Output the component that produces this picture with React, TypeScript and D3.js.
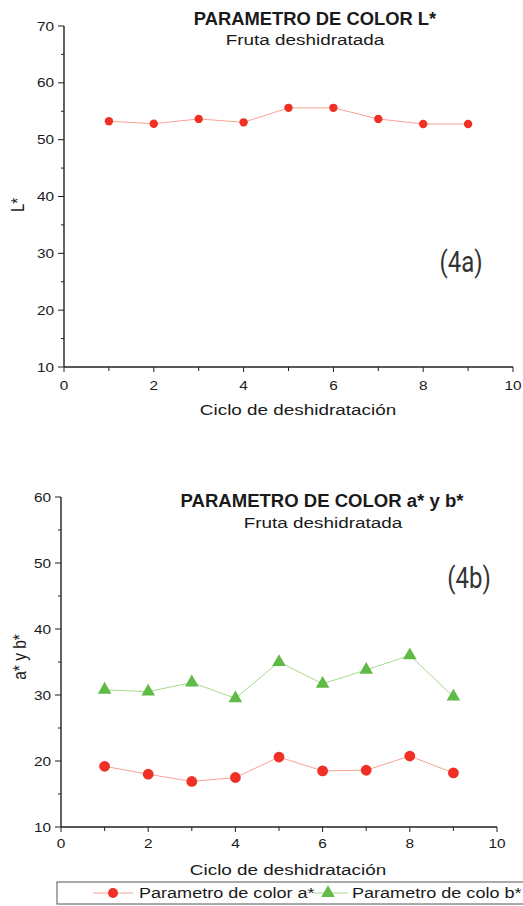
import * as d3 from "d3";
import React from "react";

// datos
const ciclos = [1, 2, 3, 4, 5, 6, 7, 8, 9];
const valoresL = [53.25, 52.8, 53.65, 53.05, 55.6, 55.6, 53.65, 52.75, 52.75];
const valoresA = [19.2, 18.0, 16.9, 17.5, 20.6, 18.5, 18.6, 20.75, 18.2];
const valoresB = [30.8, 30.5, 31.9, 29.5, 35.0, 31.7, 33.8, 36.0, 29.75];
const ticksX = [0, 2, 4, 6, 8, 10];
const ticksL = [10, 20, 30, 40, 50, 60, 70];
const ticksAB = [10, 20, 30, 40, 50, 60];

const FONT = "'Liberation Sans', Arial, sans-serif";
const RED = "#ee3124";
const RED_LINE = "#f7a493";
const GREEN = "#5fba46";
const GREEN_LINE = "#a6d98e";
const AXIS = "#231f20";
const SX = 1.22; // el original está algo estirado a lo ancho

type TProps = {
  x: number;
  y: number;
  size: number;
  anchor?: string;
  bold?: boolean;
  rotate?: number;
  family?: string;
  sx?: number;
  fill?: string;
  children: React.ReactNode;
};

const T = ({ x, y, size, anchor = "start", bold, rotate = 0, family = FONT, sx = SX, fill = "#1a1a1a", children }: TProps) => (
  <text
    transform={`translate(${x},${y}) scale(${sx},1) rotate(${rotate})`}
    textAnchor={anchor}
    fontSize={size}
    fontWeight={bold ? "bold" : "normal"}
    fontFamily={family}
    fill={fill}
  >
    {children}
  </text>
);

type AxesProps = {
  x: d3.ScaleLinear<number, number>;
  y: d3.ScaleLinear<number, number>;
  yTicks: number[];
  labelGap: number;
};

const Axes = ({ x, y, yTicks, labelGap }: AxesProps) => {
  const [x0, x1] = x.range();
  const [y0, y1] = y.range();
  const step = yTicks[1] - yTicks[0];
  const minorY = yTicks.slice(0, -1).map((t) => t + step / 2);
  const minorX = ticksX.slice(0, -1).map((t) => t + 1);
  return (
    <g>
      <line x1={x0} x2={x0} y1={y0} y2={y1} stroke={AXIS} strokeWidth={1.4} />
      <line x1={x0} x2={x1} y1={y0} y2={y0} stroke={AXIS} strokeWidth={1.4} />
      {yTicks.map((t) => (
        <g key={"y" + t}>
          <line x1={x0 - 6} x2={x0} y1={y(t)} y2={y(t)} stroke={AXIS} />
          <T x={x0 - 10} y={y(t) + 4.5} size={12.6} anchor="end">
            {t}
          </T>
        </g>
      ))}
      {minorY.map((t) => (
        <line key={"my" + t} x1={x0 - 3} x2={x0} y1={y(t)} y2={y(t)} stroke={AXIS} />
      ))}
      {ticksX.map((t) => (
        <g key={"x" + t}>
          <line x1={x(t)} x2={x(t)} y1={y0} y2={y0 + 5} stroke={AXIS} />
          <T x={x(t)} y={y0 + labelGap} size={12.6} anchor="middle">
            {t}
          </T>
        </g>
      ))}
      {minorX.map((t) => (
        <line key={"mx" + t} x1={x(t)} x2={x(t)} y1={y0} y2={y0 + 4} stroke={AXIS} />
      ))}
    </g>
  );
};

const triangle = d3.symbol().type(d3.symbolTriangle).size(80);

export default function App() {
  // gráfico 4a
  const xL = d3.scaleLinear().domain([0, 10]).range([64, 513]);
  const yL = d3.scaleLinear().domain([10, 70]).range([367, 26]);
  const lineL = d3
    .line<number>()
    .x((_, i) => xL(ciclos[i]))
    .y((d) => yL(d));

  // gráfico 4b
  const xAB = d3.scaleLinear().domain([0, 10]).range([61, 497]);
  const yAB = d3.scaleLinear().domain([10, 60]).range([827, 497]);
  const lineA = d3
    .line<number>()
    .x((_, i) => xAB(ciclos[i]))
    .y((d) => yAB(d));

  return (
    <svg
      width={523}
      height={906}
      style={{ position: "absolute", left: 0, top: 0, background: "#fff" }}
    >
      {/* ---- 4a ---- */}
      <T x={315} y={25} size={18} bold anchor="middle" sx={1.02}>PARAMETRO DE COLOR L*</T>
      <T x={305} y={44.5} size={15.5} anchor="middle">Fruta deshidratada</T>
      <Axes x={xL} y={yL} yTicks={ticksL} labelGap={23} />
      <T x={24} y={205} size={15} anchor="middle" rotate={-90}>L*</T>
      <T x={298} y={415} size={15.5} anchor="middle">Ciclo de deshidratación</T>
      <T x={461} y={272} size={30} anchor="middle" family="Roboto, sans-serif" sx={0.8} fill="#333">
        (4a)
      </T>
      <path d={lineL(valoresL) ?? ""} fill="none" stroke={RED_LINE} strokeWidth={1} />
      {valoresL.map((v, i) => (
        <circle key={i} cx={xL(ciclos[i])} cy={yL(v)} r={4.2} fill={RED} />
      ))}

      {/* ---- 4b ---- */}
      <T x={322} y={507} size={18} bold anchor="middle" sx={1.03}>PARAMETRO DE COLOR a* y b*</T>
      <T x={323} y={528} size={15.5} anchor="middle">Fruta deshidratada</T>
      <Axes x={xAB} y={yAB} yTicks={ticksAB} labelGap={21} />
      <T x={26} y={657} size={15.5} anchor="middle" rotate={-90}>a* y b*</T>
      <T x={288} y={875} size={15.5} anchor="middle">Ciclo de deshidratación</T>
      <T x={469} y={588} size={30} anchor="middle" family="Roboto, sans-serif" sx={0.8} fill="#333">
        (4b)
      </T>
      <path d={lineA(valoresB) ?? ""} fill="none" stroke={GREEN_LINE} strokeWidth={1} />
      <path d={lineA(valoresA) ?? ""} fill="none" stroke={RED_LINE} strokeWidth={1} />
      {valoresB.map((v, i) => (
        <path
          key={"b" + i}
          d={triangle() ?? ""}
          transform={`translate(${xAB(ciclos[i])},${yAB(v)})`}
          fill={GREEN}
        />
      ))}
      {valoresA.map((v, i) => (
        <circle key={"a" + i} cx={xAB(ciclos[i])} cy={yAB(v)} r={5.4} fill={RED} />
      ))}

      {/* leyenda */}
      <rect x={57} y={882} width={470} height={22} fill="#fff" stroke="#555" strokeWidth={1} />
      <line x1={93} x2={133} y1={893} y2={893} stroke={RED_LINE} />
      <circle cx={113} cy={893} r={5} fill={RED} />
      <T x={139} y={898} size={14.8}>Parametro de color a*</T>
      <line x1={314} x2={348} y1={893} y2={893} stroke={GREEN_LINE} />
      <path d={triangle() ?? ""} transform="translate(328,893)" fill={GREEN} />
      <T x={352} y={898} size={14.8}>Parametro de colo b*</T>
    </svg>
  );
}
